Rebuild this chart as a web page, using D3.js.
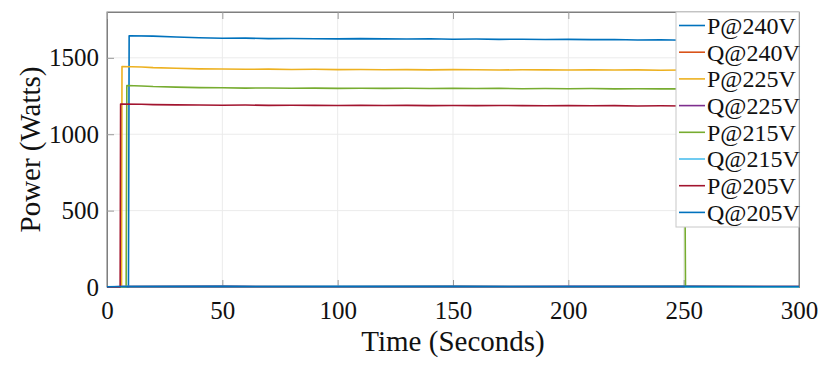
<!DOCTYPE html>
<html>
<head>
<meta charset="utf-8">
<script src="https://cdn.jsdelivr.net/npm/d3@7/dist/d3.min.js"></script>
<style>
  html, body { margin: 0; padding: 0; background: #fff; }
  svg { display: block; }
  svg text { font-family: "Liberation Serif", serif !important; fill: #111; }
</style>
</head>
<body>
<svg id="chart" width="830" height="365" font-family="Liberation Serif"></svg>
<script>
// ---- data ----
const xTicks = [0, 50, 100, 150, 200, 250, 300];
const yTicks = [0, 500, 1000, 1500];
const seriesNames = ["P@240V", "Q@240V", "P@225V", "Q@225V", "P@215V", "Q@215V", "P@205V", "Q@205V"];
const seriesColors = ["#0072BD", "#D95319", "#EDB120", "#7E2F8E", "#77AC30", "#4DBEEE", "#A2142F", "#0072BD"];

// [time (s), power (W)]
const P240 = [[0,0],[9.3,0],[9.6,1645],[20,1642],[30,1636],[40,1631],[50,1628],[60,1629],[70,1626],[80,1627],[90,1625],
  [100,1624],[110,1626],[120,1624],[130,1623],[140,1625],[150,1622],[160,1623],[170,1621],[180,1622],[190,1620],
  [200,1621],[210,1619],[220,1620],[230,1617],[240,1618],[250,1615],[260,1616],[270,1614],[280,1615],[290,1613],[300,1612]];
const P225 = [[0,0],[6.3,0],[6.5,1443],[15,1440],[20,1436],[30,1432],[40,1428],[50,1427],[60,1425],[70,1426],[80,1424],
  [90,1425],[100,1423],[110,1424],[120,1422],[130,1423],[140,1421],[150,1423],[160,1422],[170,1420],[180,1422],
  [190,1421],[200,1420],[210,1422],[220,1420],[230,1421],[240,1419],[250,1420],[260,1418],[270,1419],[280,1418],[290,1419],[300,1417]];
const P215 = [[0,0],[8.3,0],[8.6,1319],[15,1316],[20,1312],[30,1308],[40,1305],[50,1304],[60,1302],[70,1303],[80,1301],
  [90,1302],[100,1300],[110,1301],[120,1300],[130,1301],[140,1299],[150,1300],[160,1299],[170,1300],[180,1298],
  [190,1299],[200,1298],[210,1299],[220,1297],[230,1298],[240,1297],[250.3,1297],[250.8,0],[300,0]];
const P205 = [[0,0],[5.7,0],[5.9,1197],[15,1196],[20,1194],[30,1192],[40,1191],[50,1190],[60,1191],[70,1189],[80,1190],
  [90,1189],[100,1188],[110,1189],[120,1188],[130,1189],[140,1187],[150,1188],[160,1187],[170,1188],[180,1187],
  [190,1186],[200,1187],[210,1186],[220,1187],[230,1185],[240,1186],[250,1185],[260,1186],[270,1185],[280,1186],[290,1185],[300,1184]];
const Q240 = [[0,0],[9.6,3],[50,4],[100,3],[150,4],[200,3],[250,4],[300,3]];
const Q225 = [[0,0],[6.5,3],[50,4],[100,3],[150,3],[200,4],[250,3],[300,3]];
const Q215 = [[0,0],[8.6,3],[50,3],[100,4],[150,3],[200,3],[250.3,3],[250.8,0],[300,0]];
const Q205 = [[0,2],[5.9,3],[50,4],[100,3],[150,4],[200,3],[250,4],[300,3]];
const seriesData = [P240, Q240, P225, Q225, P215, Q215, P205, Q205];

// ---- layout ----
const FONT = "Liberation Serif";
const svg = d3.select("#chart");
const L = 107, T = 12, R = 799, B = 287;
const x = d3.scaleLinear().domain([0, 300]).range([L, R]);
const y = d3.scaleLinear().domain([0, 1800]).range([B, T]);

// grid
svg.append("g").selectAll("line").data(xTicks).join("line")
  .attr("x1", d => x(d)).attr("x2", d => x(d)).attr("y1", T).attr("y2", B)
  .attr("stroke", "#ebebeb").attr("stroke-width", 1);
svg.append("g").selectAll("line").data(yTicks).join("line")
  .attr("x1", L).attr("x2", R).attr("y1", d => y(d)).attr("y2", d => y(d))
  .attr("stroke", "#ebebeb").attr("stroke-width", 1);

// box
svg.append("rect").attr("x", L).attr("y", T).attr("width", R - L).attr("height", B - T)
  .attr("fill", "none").attr("stroke", "#7f7f7f").attr("stroke-width", 1);

// axes (inward ticks)
const xAxis = d3.axisBottom(x).tickValues(xTicks).tickSize(-7).tickPadding(14).tickFormat(d3.format("d"));
const yAxis = d3.axisLeft(y).tickValues(yTicks).tickSize(-7).tickPadding(14).tickFormat(d3.format("d"));
const gx = svg.append("g").attr("transform", `translate(0,${B})`).call(xAxis);
const gy = svg.append("g").attr("transform", `translate(${L},0)`).call(yAxis);
// mirrored ticks on top / right (no labels)
const gxt = svg.append("g").attr("transform", `translate(0,${T})`)
  .call(d3.axisTop(x).tickValues(xTicks).tickSize(-7).tickFormat(""));
const gyr = svg.append("g").attr("transform", `translate(${R},0)`)
  .call(d3.axisRight(y).tickValues(yTicks).tickSize(-7).tickFormat(""));
[gx, gy, gxt, gyr].forEach(g => {
  g.attr("font-family", FONT).attr("font-size", 25);
  g.select(".domain").attr("stroke", "#7f7f7f");
  g.selectAll(".tick line").attr("stroke", "#9a9a9a");
  g.selectAll(".tick text").attr("font-family", FONT).attr("font-size", 25).attr("fill", "#111");
});
gx.selectAll(".tick text").attr("dy", "0.71em").attr("y", 14);
gy.selectAll(".tick text").attr("x", -8);

// lines
const line = d3.line().x(d => x(d[0])).y(d => y(d[1]));
svg.append("g").selectAll("path").data(seriesData).join("path")
  .attr("d", d => line(d))
  .attr("fill", "none")
  .attr("stroke", (d, i) => seriesColors[i])
  .attr("stroke-width", 1.6)
  .attr("stroke-linejoin", "round");

// axis labels
svg.append("text").attr("x", (L + R) / 2).attr("y", 351).attr("text-anchor", "middle")
  .attr("font-family", FONT).attr("font-size", 29).text("Time (Seconds)");
svg.append("text").attr("transform", `translate(40,${(T + B) / 2}) rotate(-90)`).attr("text-anchor", "middle")
  .attr("font-family", FONT).attr("font-size", 29).text("Power (Watts)");

// legend
const lg = svg.append("g");
const lgX = 676, lgY = 12, lgW = 123, lgH = 215, rowH = 26.7, row0 = 25.5;
lg.append("rect").attr("x", lgX).attr("y", lgY).attr("width", lgW).attr("height", lgH)
  .attr("fill", "#fff").attr("stroke", "#c8c8c8").attr("stroke-width", 1);
const rows = lg.selectAll("g.row").data(seriesNames).join("g").attr("class", "row")
  .attr("transform", (d, i) => `translate(0,${row0 + i * rowH})`);
rows.append("line").attr("x1", 679).attr("x2", 705).attr("y1", 0).attr("y2", 0)
  .attr("stroke", (d, i) => seriesColors[i]).attr("stroke-width", 1.6);
rows.append("text").attr("x", 707).attr("y", 0).attr("dy", "0.35em")
  .attr("font-family", FONT).attr("font-size", 24).text(d => d);
</script>
</body>
</html>
